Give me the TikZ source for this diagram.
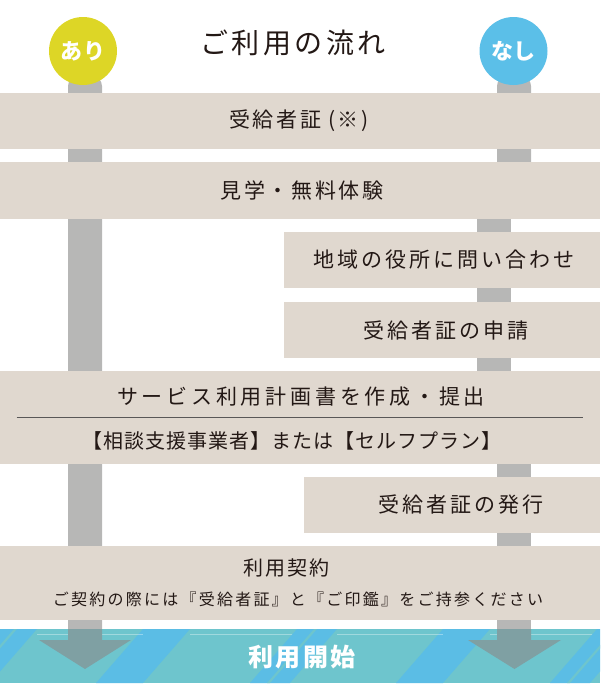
\documentclass[tikz,border=0pt]{standalone}
\usepackage{fontspec}
\setmainfont{Noto Sans CJK JP}
\newfontfamily\jp{Noto Sans CJK JP}
\newcommand{\fs}[2]{\fontsize{#1}{#1}\selectfont\addfontfeature{LetterSpace=#2}}
\definecolor{boxc}{RGB}{224,216,207}
\definecolor{barc}{RGB}{183,183,182}
\definecolor{arrc}{RGB}{127,160,163}
\definecolor{bandblue}{RGB}{91,189,229}
\definecolor{bandteal}{RGB}{110,197,205}
\definecolor{yelc}{RGB}{221,214,38}
\definecolor{bluec}{RGB}{91,191,232}
\definecolor{txtc}{RGB}{35,24,21}
\definecolor{rulec}{RGB}{89,87,87}
\tikzset{
  box/.style={fill=boxc, draw=none, inner sep=0pt, anchor=north west},
  txt/.style={font=\jp, text=txtc, inner sep=0pt},
  badge/.style={circle, minimum size=68pt, inner sep=0pt, text=white, font=\jp\bfseries\fs{22}{4}},
  barfill/.style={fill=barc},
}
\begin{document}
\begin{tikzpicture}[x=1pt,y=-1pt]
\useasboundingbox (0,0) rectangle (600,691);
% gray bars
\fill[barfill, rounded corners=10pt] (68,645) -- (68,76) -- (102,76) -- (102,645) -- cycle;
\fill[barfill, rounded corners=10pt] (497,210) -- (497,76) -- (531,76) -- (531,210) -- cycle;
\fill[barfill] (477,200) rectangle (511,420);
\fill[barfill] (497,410) rectangle (531,629);
% boxes
\node[box, minimum width=600pt, minimum height=56pt] (b1) at (0,93) {};
\node[box, minimum width=600pt, minimum height=57pt] (b2) at (0,162) {};
\node[box, minimum width=316pt, minimum height=56pt] (b3) at (284,232) {};
\node[box, minimum width=316pt, minimum height=56pt] (b4) at (284,302) {};
\node[box, minimum width=600pt, minimum height=93pt] (b5) at (0,371) {};
\node[box, minimum width=296pt, minimum height=56pt] (b6) at (304,477) {};
\node[box, minimum width=600pt, minimum height=74pt] (b7) at (0,546) {};
% band
\begin{scope}
\clip (0,629) rectangle (600,683);
\fill[bandteal] (0,629) rectangle (600,683);
\foreach \o in {0,300,600}{
  \fill[bandblue] (\o-3,629) -- (\o+37,629) -- (\o-10,683) -- (\o-50,683) -- cycle;
  \fill[bandblue] (\o+143,629) -- (\o+190,629) -- (\o+143,683) -- (\o+96,683) -- cycle;
  \fill[bandteal] (\o+14,629) -- (\o+17,629) -- (\o-30,683) -- (\o-33,683) -- cycle;
  \draw[white, opacity=0.35, line width=0.8pt] (\o+37,634.5) -- (\o+143,634.5);
  \draw[white, opacity=0.35, line width=0.8pt] (\o+190,634.5) -- (\o+297,634.5);
}
\end{scope}
% arrows
\fill[arrc] (68,629) -- (102,629) -- (102,640) -- (131,640) -- (85,669) -- (39,640) -- (68,640) -- cycle;
\fill[arrc] (497,629) -- (531,629) -- (531,640) -- (561,640) -- (514.5,669) -- (468,640) -- (497,640) -- cycle;
% badges
\node[badge, fill=yelc] (ari) at (83,51) {あり};
\node[badge, fill=bluec] (nashi) at (513.5,51) {なし};
% title
\node[txt, font=\jp\fs{28}{12}] (title) at (293,43) {ご利用の流れ};
% texts
\node[txt, font=\jp\fs{21}{12}] (t1) at (299,121) {受給者証 (※)};
\node[txt, font=\jp\fs{21}{12}] (t2) at (302,190) {見学・無料体験};
\node[txt, font=\jp\fs{21}{14}] (t3) at (444,260) {地域の役所に問い合わせ};
\node[txt, font=\jp\fs{21}{14}] (t4) at (446,330) {受給者証の申請};
\node[txt, font=\jp\fs{21}{18}] (t5a) at (301,397) {サービス利用計画書を作成・提出};
\draw[rulec, line width=1.2pt] (16.5,417.5) -- (583,417.5);
\node[txt, font=\jp\fs{20}{5}] (t5b) at (292,441) {【相談支援事業者】または【セルフプラン】};
\node[txt, font=\jp\fs{21}{14}] (t6) at (461,505) {受給者証の発行};
\node[txt, font=\jp\fs{20}{10}] (t7a) at (286,568) {利用契約};
\node[txt, font=\jp\fs{16}{14}] (t7b) at (298,599) {ご契約の際には『受給者証』と『ご印鑑』をご持参ください};
\node[txt, text=white, font=\jp\bfseries\fs{25}{10}] (t8) at (302,657) {利用開始};
\end{tikzpicture}
\end{document}
